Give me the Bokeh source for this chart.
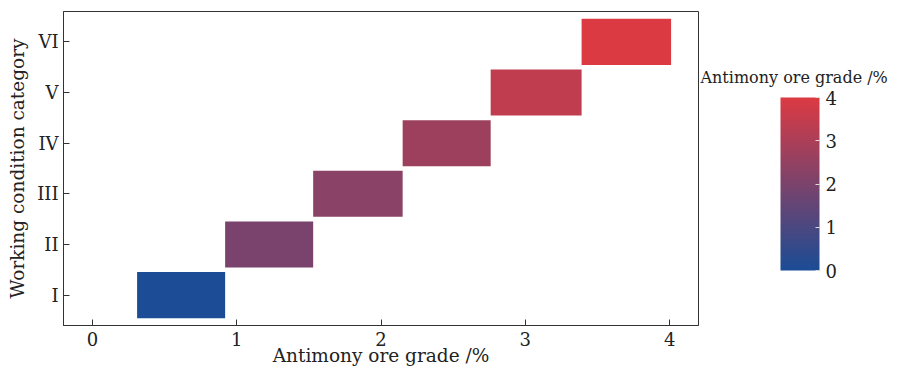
from bokeh.plotting import figure
from bokeh.models import (ColorBar, LinearColorMapper, Range1d, FactorRange,
                          ColumnDataSource, FixedTicker)
from bokeh.embed import file_html
from bokeh.resources import INLINE

categories = ["I", "II", "III", "IV", "V", "VI"]
grade_low = [0.31, 0.92, 1.53, 2.15, 2.76, 3.39]
grade_high = [0.92, 1.53, 2.15, 2.76, 3.39, 4.01]
color_value = [0.0, 1.95, 2.3, 2.7, 3.4, 4.0]
x_ticks = [0, 1, 2, 3, 4]
colorbar_title = "Antimony ore grade /%"

FONT = "DejaVu Serif"
TXT = "#222222"
LBL = "18.5px"
TCK = "18px"

# blue -> red palette
c0 = (27, 76, 149)
c1 = (220, 58, 67)
palette = []
for i in range(256):
    t = i / 255
    r, g, b = (round(a + (bb - a) * t) for a, bb in zip(c0, c1))
    palette.append("#%02x%02x%02x" % (r, g, b))

mapper = LinearColorMapper(palette=palette, low=0, high=4)

src = ColumnDataSource(dict(cat=categories, lo=grade_low, hi=grade_high, val=color_value))

p = figure(width=889, height=369, output_backend="svg", toolbar_location=None,
           x_range=Range1d(-0.2, 4.2),
           y_range=FactorRange(*categories, range_padding=0.1, range_padding_units="absolute"),
           min_border_left=63, min_border_right=191, min_border_top=11, min_border_bottom=44)

p.hbar(y="cat", left="lo", right="hi", height=0.91, source=src,
       fill_color={"field": "val", "transform": mapper}, line_color=None)

p.grid.visible = False
p.outline_line_color = "#333333"
p.outline_line_width = 1

p.xaxis.ticker = FixedTicker(ticks=x_ticks)
p.xaxis.minor_tick_line_color = None
for ax in (p.xaxis[0], p.yaxis[0]):
    ax.major_tick_in = 6
    ax.major_tick_out = 0
    ax.axis_line_color = "#333333"
    ax.major_tick_line_color = "#333333"
    ax.major_label_text_font = FONT
    ax.major_label_text_font_size = TCK
    ax.major_label_text_color = TXT
    ax.axis_label_text_font = FONT
    ax.axis_label_text_font_size = LBL
    ax.axis_label_text_font_style = "normal"
    ax.axis_label_text_color = TXT
p.xaxis.axis_label = "Antimony ore grade /%"
p.yaxis.axis_label = "Working condition category"
p.xaxis.major_label_standoff = 6
p.xaxis.axis_label_standoff = -4
p.yaxis.major_label_standoff = 5
p.yaxis.axis_label_standoff = 6

cb = ColorBar(color_mapper=mapper, ticker=FixedTicker(ticks=x_ticks),
              width=39, height=173, title=None, orientation="vertical",
              major_label_text_font=FONT, major_label_text_font_size=TCK,
              major_label_text_color=TXT, label_standoff=6,
              major_tick_line_color="#dddddd", major_tick_in=4, major_tick_out=0,
              bar_line_color=None, background_fill_color=None, border_line_color=None,
              location=(717, 55), padding=0)
p.add_layout(cb, "center")

# title of the colour bar (drawn unclipped, above the bar)
cb_title = ColorBar(color_mapper=mapper, ticker=FixedTicker(ticks=[]),
                    orientation="horizontal",
                    width=1, height=1, scale_alpha=0, title=colorbar_title,
                    title_text_font=FONT, title_text_font_size="16px",
                    title_text_font_style="normal", title_text_color=TXT,
                    title_standoff=0, major_tick_line_color=None, minor_tick_line_color=None,
                    major_label_text_alpha=0,
                    bar_line_color=None, background_fill_color=None, border_line_color=None,
                    location=(637, 238), padding=0)
p.add_layout(cb_title, "center")

open("out.html", "w").write(file_html(p, INLINE))
